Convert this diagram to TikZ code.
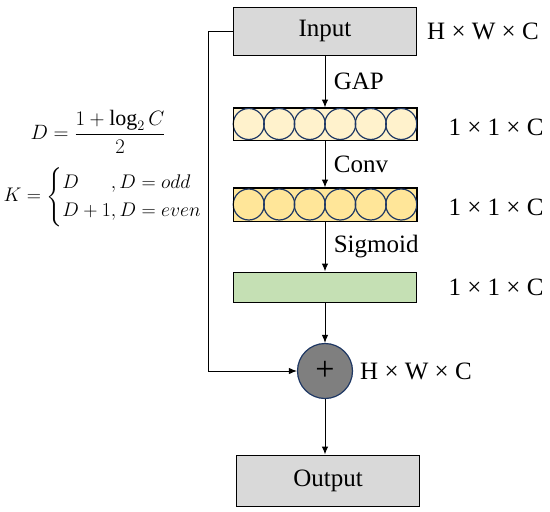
\documentclass[tikz,border=0pt]{standalone}
\usepackage{amsmath}
\usepackage{fontspec}
\setmainfont{Liberation Serif}
\usetikzlibrary{arrows.meta}

\definecolor{boxgray}{HTML}{D9D9D9}
\definecolor{cream}{HTML}{FFF2CC}
\definecolor{gold}{HTML}{FFE699}
\definecolor{leaf}{HTML}{C5E0B4}
\definecolor{navy}{HTML}{1F3864}
\definecolor{sumgray}{HTML}{7F7F7F}

\newcommand*{\colx}{325}
\newcommand*{\colw}{183}
\newcommand*{\dimx}{496}

\begin{document}
\begin{tikzpicture}
[
	x=1pt,y=-1pt,
	every node/.style={font=\fontsize{25}{30}\selectfont},
	block/.style={draw,line width=1pt,minimum width=\colw pt,inner sep=0pt},
	bead/.style={draw=navy,line width=1.2pt},
	link/.style={line width=1pt,-{Latex[length=8pt,width=6.5pt]}},
	dimlabel/.style={anchor=center},
	formula/.style={anchor=west,font=\fontsize{22}{30}\selectfont}
]

	\useasboundingbox (0,0) rectangle (550,512);

	% main column
	\node[block,fill=boxgray,minimum height=48pt] at (\colx,31) (input) {Input};
	\node[block,fill=cream,minimum height=32pt] at (\colx,124) (gap) {};
	\node[block,fill=gold,minimum height=33pt] at (\colx,204.5) (conv) {};
	\node[block,fill=leaf,minimum height=30pt] at (\colx,287) (sig) {};
	\node[circle,draw=navy,line width=1.2pt,fill=sumgray,minimum size=55pt,inner sep=0pt] at (\colx,371) (sum) {};
	\node[font=\fontsize{34}{34}\selectfont] at (sum.center) (plus) {+};
	\node[block,fill=boxgray,minimum height=51pt] at (328,480.5) (output) {Output};

	% beads
	\foreach \i in {0,...,5} {
		\draw[bead] (233.5+15.25+30.5*\i,124) circle (15.5);
		\draw[bead] (233.5+15.25+30.5*\i,204.5) circle (15.5);
	}
	\draw[line width=1pt] (gap.south west) rectangle (gap.north east);
	\draw[line width=1pt] (conv.south west) rectangle (conv.north east);

	% arrows
	\draw[link] (input.south) -- (gap.north) node[midway,right=5pt] (gaplabel) {GAP};
	\draw[link] (gap.south) -- (conv.north) node[midway,right=5pt] (convlabel) {Conv};
	\draw[link] (conv.south) -- (sig.north) node[midway,right=5pt] (siglabel) {Sigmoid};
	\draw[link] (sig.south) -- (sum.north);
	\draw[link] (sum.south) -- (sum.south |- output.north);

	% skip connection
	\coordinate (skip) at (208,31);
	\draw[link] (input.west) -- (skip) |- (sum.west);

	% sizes
	\node[dimlabel] at (483,31) (dimin) {H × W × C};
	\node[dimlabel] at (\dimx,127) (dimgap) {1 × 1 × C};
	\node[dimlabel] at (\dimx,207) (dimconv) {1 × 1 × C};
	\node[dimlabel] at (\dimx,287) (dimsig) {1 × 1 × C};
	\node[dimlabel] at (416,371) (dimsum) {H × W × C};

	% formulas
	\node[formula] at (27,132) (dform) {$D=\dfrac{1+\log_2 C}{2}$};
	\node[formula] at (0,197) (kform) {\scalebox{0.95}{$K=\left\{\begin{array}{@{}l@{}l@{}}D & ,D=odd\\ D+1 & ,D=even\end{array}\right.$}};

\end{tikzpicture}
\end{document}
